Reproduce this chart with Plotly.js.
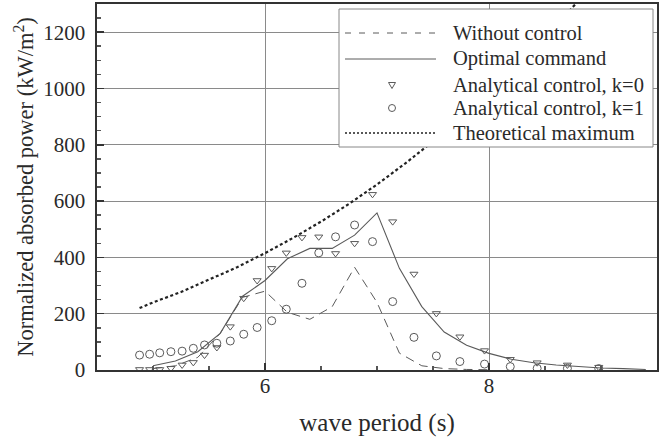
<!DOCTYPE html>
<html>
<head>
<meta charset="utf-8">
<script src="https://cdn.plot.ly/plotly-3.0.1.min.js"></script>
<style>html,body{margin:0;padding:0;background:#fff;}#chart{width:672px;height:441px;}</style>
</head>
<body>
<div id="chart"></div>
<script>
// ---- data ----
const periodGrid = [5.0, 5.2, 5.4, 5.6, 5.8, 6.0, 6.2, 6.4, 6.6, 6.8, 7.0, 7.2, 7.4, 7.6, 7.8, 8.0, 8.2, 8.4, 8.6, 8.8, 9.0, 9.2, 9.4];
const optimalCommand = [15, 32, 65, 130, 262, 318, 395, 432, 432, 479, 558, 361, 225, 135, 88, 59, 38, 26, 18, 12, 7, 5, 2];

const periodNoCtrl = [5.0, 5.2, 5.4, 5.6, 5.8, 6.0, 6.2, 6.4, 6.6, 6.8, 7.0, 7.2, 7.4, 7.6, 7.8, 8.0];
const withoutControl = [5, 15, 45, 130, 258, 280, 205, 180, 225, 365, 240, 60, 15, 5, 2, 1];

const periodAnalytic = [4.88, 4.97, 5.06, 5.16, 5.26, 5.36, 5.46, 5.57, 5.69, 5.81, 5.93, 6.06, 6.19, 6.33, 6.48, 6.63, 6.80, 6.96, 7.14, 7.33, 7.53, 7.74, 7.96, 8.19, 8.43, 8.70, 8.98];
const analyticK0 = [2, 2, 2, 6, 18, 27, 53, 80, 154, 255, 318, 361, 416, 471, 473, 414, 450, 624, 527, 341, 201, 118, 69, 38, 26, 18, 10];
const analyticK1 = [53, 56, 61, 65, 67, 77, 89, 95, 103, 127, 151, 175, 216, 308, 416, 473, 515, 456, 243, 116, 50, 30, 21, 12, 6, 6, 5];

const periodTheory = [4.88, 5.0, 5.25, 5.5, 5.75, 6.0, 6.25, 6.5, 6.75, 7.0, 7.25, 7.5, 7.75, 8.0, 8.25, 8.5, 8.75, 9.0];
const theoreticalMax = [220, 240, 277, 320, 365, 415, 469, 527, 590, 659, 733, 812, 898, 983, 1081, 1180, 1290, 1400];

const legendLabels = ["Without control", "Optimal command", "Analytical control, k=0", "Analytical control, k=1", "Theoretical maximum"];
const xTitle = "wave period (s)";
const yTitle = "Normalized absorbed power (kW/m<sup>2</sup>)";

// ---- styling / layout ----
const FONT = "'Liberation Serif', 'Times New Roman', serif";
const lineGrey = "#5a5a5a";
const M = {l: 97, r: 15, t: 4, b: 71};
const PW = 672 - M.l - M.r, PH = 441 - M.t - M.b;
const px2x = p => (p - M.l) / PW;
const py2y = p => (441 - M.b - p) / PH;

const traces = [
  {x: periodNoCtrl, y: withoutControl, mode: 'lines', name: legendLabels[0],
   line: {color: lineGrey, width: 1, dash: '9px,6px'}},
  {x: periodGrid, y: optimalCommand, mode: 'lines', name: legendLabels[1],
   line: {color: lineGrey, width: 1.1}},
  {x: periodAnalytic, y: analyticK0, mode: 'markers', name: legendLabels[2],
   marker: {symbol: 'triangle-down-open', size: 7, color: lineGrey, line: {width: 1, color: lineGrey}}},
  {x: periodAnalytic, y: analyticK1, mode: 'markers', name: legendLabels[3],
   marker: {symbol: 'circle-open', size: 8, color: lineGrey, line: {width: 1, color: lineGrey}}},
  {x: periodTheory, y: theoreticalMax, mode: 'lines', name: legendLabels[4],
   line: {color: '#222', width: 2.2, dash: '3px,2.5px'}}
];

// custom legend (box, samples, labels)
const legY = [33, 59, 85, 108, 133];
const sx0 = px2x(345), sx1 = px2x(436), smid = px2x(392);
const shapes = [
  {type: 'rect', xref: 'paper', yref: 'paper', x0: px2x(339), x1: px2x(653), y0: py2y(147), y1: py2y(9),
   fillcolor: '#fff', line: {color: '#888', width: 1}, layer: 'above'},
  {type: 'line', xref: 'paper', yref: 'paper', x0: sx0, x1: sx1, y0: py2y(legY[0]), y1: py2y(legY[0]),
   line: {color: lineGrey, width: 1, dash: '6px,8px'}, layer: 'above'},
  {type: 'line', xref: 'paper', yref: 'paper', x0: sx0, x1: sx1, y0: py2y(legY[1]), y1: py2y(legY[1]),
   line: {color: lineGrey, width: 1}, layer: 'above'},
  {type: 'path', xref: 'paper', yref: 'paper', xsizemode: 'pixel', ysizemode: 'pixel',
   xanchor: smid, yanchor: py2y(legY[2]), path: 'M -3.5 2.5 L 3.5 2.5 L 0 -3.5 Z',
   line: {color: lineGrey, width: 1}, layer: 'above'},
  {type: 'circle', xref: 'paper', yref: 'paper', xsizemode: 'pixel', ysizemode: 'pixel',
   xanchor: smid, yanchor: py2y(legY[3]), x0: -3.5, x1: 3.5, y0: -3.5, y1: 3.5,
   line: {color: lineGrey, width: 1}, layer: 'above'},
  {type: 'line', xref: 'paper', yref: 'paper', x0: sx0, x1: sx1, y0: py2y(legY[4]), y1: py2y(legY[4]),
   line: {color: '#222', width: 1.6, dash: '2px,2px'}, layer: 'above'}
];
const annotations = legendLabels.map((t, i) => ({
  text: t, xref: 'paper', yref: 'paper', x: px2x(451), y: py2y(legY[i]),
  xanchor: 'left', yanchor: 'middle', showarrow: false,
  font: {family: FONT, size: 20.5, color: '#2a2a2a'}
}));

const axisCommon = {
  showline: true, linecolor: '#333', linewidth: 1.6, mirror: true,
  ticks: 'inside', tickcolor: '#333', tickwidth: 1.5, ticklen: 7,
  showgrid: true, gridcolor: '#8a8a8a', gridwidth: 1, zeroline: false,
  tickfont: {family: FONT, size: 21, color: '#2a2a2a'}
};

const layout = {
  width: 672, height: 441,
  margin: M,
  paper_bgcolor: '#fff', plot_bgcolor: '#fff',
  showlegend: false,
  xaxis: Object.assign({}, axisCommon, {
    range: [4.5, 9.5], tickmode: 'linear', tick0: 6, dtick: 2,
    minor: {dtick: 0.5, tick0: 4.5, ticks: 'inside', ticklen: 4, tickcolor: '#555', showgrid: false},
    ticklabelstandoff: -4,
    title: {text: xTitle, font: {family: FONT, size: 25, color: '#2a2a2a'}, standoff: 17}
  }),
  yaxis: Object.assign({}, axisCommon, {
    range: [0, 1300], tickmode: 'linear', tick0: 0, dtick: 200,
    minor: {dtick: 50, ticks: 'inside', ticklen: 4, tickcolor: '#555', showgrid: false},
    ticklabelstandoff: 6,
    title: {text: yTitle, font: {family: FONT, size: 22.5, color: '#2a2a2a'}, standoff: 3}
  }),
  shapes: shapes,
  annotations: annotations
};

Plotly.newPlot('chart', traces, layout, {staticPlot: true, displayModeBar: false});
</script>
</body>
</html>
